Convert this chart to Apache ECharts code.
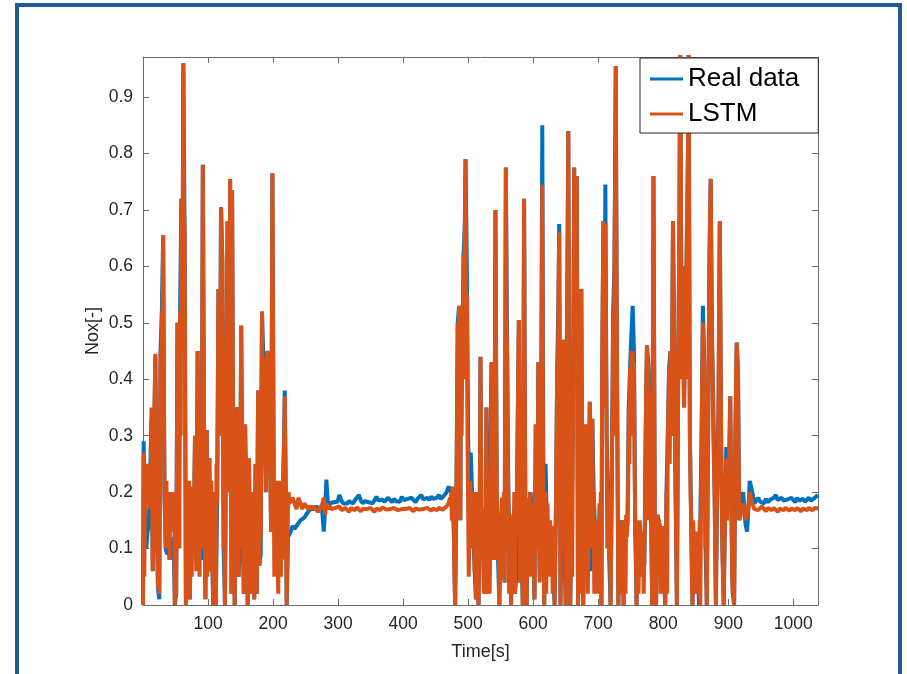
<!DOCTYPE html>
<html>
<head>
<meta charset="utf-8">
<script src="https://cdn.jsdelivr.net/npm/echarts@6/dist/echarts.min.js"></script>
<style>
  html, body { margin: 0; padding: 0; background: #fff; }
  #chart { width: 907px; height: 674px; }
</style>
</head>
<body>
<div id="chart"></div>
<script>
// time stamps [s]
var time = [
  0, 1, 3, 5, 7, 9, 11, 13, 15, 17,
  19, 21, 23, 25, 27, 29, 31, 33, 35, 37,
  39, 41, 43, 45, 47, 49, 51, 53, 55, 57,
  59, 61, 62, 64, 66, 68, 70, 72, 74, 76,
  78, 80, 82, 84, 86, 88, 90, 92, 94, 96,
  98, 100, 102, 104, 106, 108, 110, 112, 114, 116,
  118, 120, 122, 124, 126, 128, 130, 132, 134, 136,
  137, 139, 141, 143, 145, 147, 149, 151, 153, 155,
  157, 159, 161, 163, 165, 167, 169, 171, 173, 175,
  177, 179, 181, 183, 185, 187, 189, 191, 193, 195,
  197, 199, 201, 203, 205, 207, 209, 211, 213, 215,
  217, 218, 220, 221, 223, 225,
  227, 230, 233, 236, 239, 242, 245, 248, 251, 254,
  257, 260, 263, 266, 269, 272, 275, 278, 280, 282,
  284, 287, 290, 293, 296, 299, 302, 305, 308, 311,
  314, 317, 320, 323, 326, 329, 332, 335, 338, 341,
  344, 347, 350, 353, 356, 359, 362, 365, 368, 371,
  374, 377, 380, 383, 386, 389, 392, 395, 398, 401,
  404, 407, 410, 413, 416, 419, 422, 425, 428, 431,
  434, 437, 440, 443, 446, 449, 452, 455, 458, 461,
  464, 467, 470,
  472, 474, 476, 478, 480, 482, 484, 486, 488, 489,
  491, 493, 495, 496, 498, 500, 502, 504, 506, 508,
  510, 512, 514, 516, 518, 519, 521, 523, 525, 527,
  528, 530, 532, 534, 536, 538, 540, 542, 544, 546,
  548, 550, 552, 554, 556, 558, 560, 562, 564, 566,
  568, 570, 572, 574, 576, 578, 580, 582, 584, 586,
  588, 590, 592, 594, 596, 598, 600, 602, 604, 606,
  608, 610, 612, 614, 616, 617, 619, 621, 623, 625,
  627, 629, 631, 633, 635, 637, 639, 640, 642, 644,
  646, 648, 650, 652, 654, 656, 657, 659, 661, 663,
  665, 667, 669, 671, 673, 674, 676, 677, 679, 681,
  683, 685, 687, 689, 691, 693, 695, 697, 699, 701,
  703, 705, 706, 708, 710, 711, 713, 715, 717, 719,
  721, 723, 725, 727, 729, 731, 733, 735, 737, 739,
  741, 743, 745, 747, 749, 751, 753, 755, 757, 759,
  761, 763, 765, 767, 769, 771, 773, 775, 777, 779,
  781, 783, 785, 787, 789, 791, 793, 795, 797, 799,
  801, 803, 805, 807, 809, 811, 813, 815, 817, 819,
  821, 823, 825, 826, 828, 830, 832, 834, 836, 838,
  839, 841, 843, 845, 847, 849, 851, 853, 855, 857,
  859, 861, 863, 865, 867, 869, 871, 873, 875, 877,
  879, 881, 883, 885, 887, 889, 891, 893, 895, 897,
  899, 901, 903, 905, 907, 909, 911, 913, 915, 917,
  919, 921, 923, 925, 927, 929, 931, 933, 935, 937,
  940, 943, 946, 949, 952, 955, 958, 961, 964, 967,
  970, 973, 976, 979, 982, 985, 988, 991, 994, 997,
  1000, 1003, 1006, 1009, 1012, 1015, 1018, 1021, 1024, 1027,
  1030, 1033, 1036, 1038
];

// measured Nox
var realData = [
  0.0, 0.29, 0.16, 0.10, 0.13, 0.14, 0.14, 0.33, 0.06, 0.28,
  0.44, 0.18, 0.03, 0.01, 0.45, 0.52, 0.655, 0.20, 0.10, 0.09,
  0.10, 0.08, 0.10, 0.11, 0.12, 0.0, 0.02, 0.50, 0.15, 0.52,
  0.72, 0.62, 0.96, 0.66, 0.0, 0.18, 0.17, 0.01, 0.14, 0.20,
  0.12, 0.30, 0.08, 0.45, 0.10, 0.15, 0.08, 0.78, 0.30, 0.01,
  0.31, 0.13, 0.26, 0.06, 0.10, 0.0, 0.10, 0.0, 0.18, 0.56,
  0.30, 0.705, 0.61, 0.10, 0.0, 0.35, 0.68, 0.20, 0.755, 0.02,
  0.735, 0.20, 0.0, 0.34, 0.35, 0.05, 0.10, 0.495, 0.18, 0.02,
  0.32, 0.20, 0.0, 0.26, 0.10, 0.02, 0.15, 0.01, 0.25, 0.02,
  0.38, 0.07, 0.09, 0.52, 0.44, 0.44, 0.20, 0.45, 0.44, 0.30,
  0.13, 0.765, 0.22, 0.12, 0.14, 0.08, 0.18, 0.10, 0.15, 0.20,
  0.30, 0.38, 0.15, 0.0, 0.12, 0.12,
  0.13, 0.14, 0.135, 0.14, 0.145, 0.15, 0.15, 0.155, 0.16, 0.165,
  0.17, 0.172, 0.17, 0.175, 0.17, 0.172, 0.175, 0.13, 0.17, 0.222,
  0.185, 0.18, 0.178, 0.182, 0.18, 0.183, 0.195, 0.185, 0.18, 0.183,
  0.18, 0.184, 0.182, 0.18, 0.186, 0.183, 0.195, 0.185, 0.18, 0.184,
  0.186, 0.182, 0.185, 0.18, 0.183, 0.192, 0.185, 0.182, 0.187, 0.183,
  0.185, 0.19, 0.186, 0.182, 0.188, 0.184, 0.187, 0.183, 0.192, 0.186,
  0.184, 0.188, 0.185, 0.19, 0.186, 0.182, 0.188, 0.185, 0.195, 0.187,
  0.185, 0.19, 0.186, 0.192, 0.188, 0.185, 0.19, 0.195, 0.188, 0.19,
  0.195, 0.20, 0.21,
  0.21, 0.20, 0.19, 0.13, 0.0, 0.20, 0.50, 0.53, 0.15, 0.53,
  0.44, 0.62, 0.68, 0.79, 0.60, 0.30, 0.15, 0.27, 0.20, 0.12,
  0.06, 0.01, 0.12, 0.0, 0.20, 0.44, 0.08, 0.08, 0.17, 0.02,
  0.35, 0.06, 0.10, 0.10, 0.43, 0.38, 0.08, 0.70, 0.20, 0.08,
  0.0, 0.12, 0.19, 0.16, 0.04, 0.775, 0.44, 0.18, 0.13, 0.0,
  0.16, 0.13, 0.02, 0.05, 0.30, 0.505, 0.04, 0.10, 0.0, 0.72,
  0.14, 0.0, 0.19, 0.15, 0.20, 0.16, 0.10, 0.01, 0.32, 0.10,
  0.43, 0.05, 0.24, 0.85, 0.10, 0.0, 0.25, 0.15, 0.12, 0.14,
  0.07, 0.12, 0.05, 0.0, 0.17, 0.425, 0.55, 0.675, 0.0, 0.20,
  0.47, 0.10, 0.0, 0.50, 0.84, 0.15, 0.0, 0.12, 0.30, 0.775,
  0.50, 0.76, 0.0, 0.15, 0.40, 0.56, 0.10, 0.0, 0.15, 0.32,
  0.20, 0.12, 0.36, 0.06, 0.33, 0.20, 0.14, 0.05, 0.15, 0.13,
  0.10, 0.0, 0.40, 0.68, 0.50, 0.745, 0.30, 0.20, 0.08, 0.0,
  0.23, 0.52, 0.60, 0.955, 0.40, 0.0, 0.14, 0.13, 0.15, 0.0,
  0.12, 0.15, 0.14, 0.35, 0.42, 0.48, 0.53, 0.45, 0.13, 0.0,
  0.12, 0.08, 0.07, 0.08, 0.08, 0.07, 0.30, 0.46, 0.43, 0.38,
  0.20, 0.0, 0.76, 0.15, 0.0, 0.16, 0.15, 0.13, 0.12, 0.10,
  0.05, 0.0, 0.20, 0.30, 0.42, 0.45, 0.30, 0.68, 0.45, 0.20,
  0.0, 0.40, 0.70, 1.0, 0.50, 0.60, 0.35, 0.50, 0.62, 0.80,
  1.0, 0.30, 0.15, 0.0, 0.12, 0.10, 0.02, 0.08, 0.0, 0.0,
  0.30, 0.53, 0.43, 0.10, 0.0, 0.30, 0.60, 0.755, 0.47, 0.36,
  0.20, 0.0, 0.20, 0.35, 0.68, 0.30, 0.10, 0.0, 0.15, 0.28,
  0.20, 0.21, 0.37, 0.15, 0.02, 0.0, 0.30, 0.465, 0.41, 0.15,
  0.17, 0.19, 0.20, 0.16, 0.14, 0.13, 0.13, 0.22, 0.22, 0.20,
  0.18, 0.185, 0.19, 0.183, 0.185, 0.18, 0.188, 0.182, 0.186, 0.183,
  0.19, 0.195, 0.186, 0.184, 0.19, 0.185, 0.183, 0.187, 0.185, 0.19,
  0.186, 0.182, 0.19, 0.185, 0.184, 0.188, 0.183, 0.186, 0.19, 0.185,
  0.188, 0.19, 0.192, 0.195
];

// LSTM prediction, same time stamps
var lstm = [
  0.0, 0.27, 0.20, 0.22, 0.23, 0.21, 0.20, 0.35, 0.06, 0.30,
  0.445, 0.18, 0.03, 0.02, 0.45, 0.52, 0.655, 0.20, 0.10, 0.15,
  0.19, 0.08, 0.14, 0.17, 0.13, 0.0, 0.02, 0.50, 0.17, 0.52,
  0.72, 0.62, 0.96, 0.66, 0.0, 0.20, 0.17, 0.01, 0.15, 0.21,
  0.13, 0.30, 0.06, 0.45, 0.12, 0.20, 0.10, 0.78, 0.30, 0.01,
  0.31, 0.13, 0.26, 0.06, 0.15, 0.0, 0.10, 0.0, 0.18, 0.56,
  0.30, 0.705, 0.61, 0.10, 0.0, 0.35, 0.68, 0.20, 0.755, 0.02,
  0.735, 0.20, 0.0, 0.34, 0.35, 0.05, 0.10, 0.495, 0.20, 0.02,
  0.32, 0.17, 0.0, 0.26, 0.10, 0.02, 0.15, 0.01, 0.25, 0.02,
  0.38, 0.07, 0.12, 0.52, 0.44, 0.44, 0.20, 0.45, 0.44, 0.30,
  0.13, 0.765, 0.22, 0.12, 0.14, 0.08, 0.18, 0.10, 0.15, 0.20,
  0.28, 0.37, 0.15, 0.0, 0.17, 0.18,
  0.18, 0.19, 0.18, 0.17, 0.19, 0.18, 0.17, 0.18, 0.175, 0.17,
  0.175, 0.17, 0.175, 0.17, 0.165, 0.17, 0.175, 0.19, 0.16, 0.18,
  0.17, 0.175, 0.17, 0.168, 0.172, 0.17, 0.175, 0.168, 0.17, 0.172,
  0.17, 0.165, 0.172, 0.17, 0.168, 0.173, 0.17, 0.166, 0.17, 0.172,
  0.17, 0.168, 0.172, 0.17, 0.165, 0.171, 0.17, 0.168, 0.173, 0.17,
  0.169, 0.172, 0.17, 0.167, 0.172, 0.17, 0.168, 0.171, 0.17, 0.173,
  0.17, 0.168, 0.172, 0.17, 0.166, 0.171, 0.17, 0.169, 0.172, 0.17,
  0.168, 0.172, 0.17, 0.167, 0.171, 0.17, 0.168, 0.172, 0.17, 0.169,
  0.172, 0.175, 0.18,
  0.19, 0.20, 0.21, 0.13, 0.0, 0.20, 0.50, 0.53, 0.15, 0.53,
  0.44, 0.62, 0.68, 0.79, 0.55, 0.17, 0.15, 0.18, 0.14, 0.12,
  0.06, 0.01, 0.12, 0.0, 0.20, 0.44, 0.10, 0.08, 0.17, 0.02,
  0.35, 0.08, 0.15, 0.10, 0.43, 0.38, 0.08, 0.70, 0.20, 0.08,
  0.0, 0.12, 0.19, 0.16, 0.04, 0.775, 0.44, 0.18, 0.14, 0.0,
  0.16, 0.13, 0.02, 0.12, 0.30, 0.505, 0.04, 0.10, 0.0, 0.72,
  0.14, 0.0, 0.19, 0.15, 0.18, 0.14, 0.10, 0.01, 0.32, 0.10,
  0.43, 0.04, 0.20, 0.745, 0.10, 0.0, 0.20, 0.15, 0.12, 0.14,
  0.07, 0.12, 0.05, 0.0, 0.17, 0.425, 0.55, 0.66, 0.0, 0.20,
  0.47, 0.10, 0.0, 0.50, 0.84, 0.15, 0.0, 0.12, 0.30, 0.775,
  0.50, 0.76, 0.0, 0.15, 0.40, 0.56, 0.10, 0.0, 0.15, 0.32,
  0.20, 0.12, 0.36, 0.10, 0.33, 0.20, 0.14, 0.05, 0.15, 0.13,
  0.10, 0.0, 0.40, 0.68, 0.50, 0.675, 0.30, 0.20, 0.08, 0.0,
  0.25, 0.52, 0.60, 0.955, 0.40, 0.0, 0.14, 0.13, 0.15, 0.0,
  0.13, 0.16, 0.15, 0.35, 0.42, 0.45, 0.45, 0.43, 0.13, 0.0,
  0.12, 0.10, 0.12, 0.11, 0.08, 0.10, 0.30, 0.46, 0.43, 0.38,
  0.20, 0.0, 0.76, 0.15, 0.0, 0.16, 0.15, 0.14, 0.12, 0.10,
  0.05, 0.0, 0.20, 0.30, 0.42, 0.45, 0.30, 0.68, 0.45, 0.20,
  0.0, 0.40, 0.70, 1.0, 0.50, 0.60, 0.35, 0.50, 0.62, 0.80,
  1.0, 0.30, 0.15, 0.0, 0.12, 0.10, 0.02, 0.08, 0.02, 0.0,
  0.30, 0.50, 0.43, 0.10, 0.0, 0.30, 0.60, 0.755, 0.47, 0.30,
  0.20, 0.0, 0.20, 0.35, 0.68, 0.30, 0.10, 0.0, 0.15, 0.26,
  0.20, 0.21, 0.37, 0.15, 0.02, 0.0, 0.30, 0.465, 0.41, 0.15,
  0.17, 0.16, 0.18, 0.17, 0.15, 0.16, 0.17, 0.20, 0.19, 0.18,
  0.17, 0.172, 0.168, 0.17, 0.175, 0.17, 0.166, 0.172, 0.17, 0.168,
  0.172, 0.17, 0.165, 0.171, 0.17, 0.168, 0.172, 0.17, 0.167, 0.171,
  0.17, 0.168, 0.172, 0.17, 0.166, 0.171, 0.17, 0.168, 0.172, 0.17,
  0.168, 0.172, 0.17, 0.171
];

// extra LSTM samples in between (the dense 1 s wiggle inside the two bursts)
var lstmFillTime = [
  2, 4, 6, 8, 10, 12, 14, 16, 18, 20,
  22, 24, 26, 28, 30, 32, 34, 36, 38, 40,
  42, 44, 46, 48, 50, 52, 54, 56, 58, 60,
  63, 65, 67, 69, 71, 73, 75, 77, 79, 81,
  83, 85, 87, 89, 91, 93, 95, 97, 99, 101,
  103, 105, 107, 109, 111, 113, 115, 117, 119, 121,
  123, 125, 127, 129, 131, 133, 135, 138, 140, 142,
  144, 146, 148, 150, 152, 154, 156, 158, 160, 162,
  164, 166, 168, 170, 172, 174, 176, 178, 180, 182,
  184, 186, 188, 190, 192, 194, 196, 198, 200, 202,
  204, 206, 208, 210, 212, 214, 216, 219, 222, 224,
  473, 475, 477, 479, 481, 483, 485, 487, 490, 492,
  494, 497, 499, 501, 503, 505, 507, 509, 511, 513,
  515, 517, 520, 522, 524, 526, 529, 531, 533, 535,
  537, 539, 541, 543, 545, 547, 549, 551, 553, 555,
  557, 559, 561, 563, 565, 567, 569, 571, 573, 575,
  577, 579, 581, 583, 585, 587, 589, 591, 593, 595,
  597, 599, 601, 603, 605, 607, 609, 611, 613, 615,
  618, 620, 622, 624, 626, 628, 630, 632, 634, 636,
  638, 641, 643, 645, 647, 649, 651, 653, 655, 658,
  660, 662, 664, 666, 668, 670, 672, 675, 678, 680,
  682, 684, 686, 688, 690, 692, 694, 696, 698, 700,
  702, 704, 707, 709, 712, 714, 716, 718, 720, 722,
  724, 726, 728, 730, 732, 734, 736, 738, 740, 742,
  744, 746, 748, 750, 752, 754, 756, 758, 760, 762,
  764, 766, 768, 770, 772, 774, 776, 778, 780, 782,
  784, 786, 788, 790, 792, 794, 796, 798, 800, 802,
  804, 806, 808, 810, 812, 814, 816, 818, 820, 822,
  824, 827, 829, 831, 833, 835, 837, 840, 842, 844,
  846, 848, 850, 852, 854, 856, 858, 860, 862, 864,
  866, 868, 870, 872, 874, 876, 878, 880, 882, 884,
  886, 888, 890, 892, 894, 896, 898, 900, 902, 904,
  906, 908, 910, 912, 914, 916, 918
];
var lstmFill = [
  0.05, 0.24, 0.18, 0.25, 0.17, 0.22, 0.20, 0.12, 0.38, 0.30,
  0.10, 0.15, 0.25, 0.30, 0.45, 0.40, 0.15, 0.22, 0.16, 0.20,
  0.20, 0.15, 0.18, 0.20, 0.15, 0.25, 0.30, 0.10, 0.30, 0.45,
  0.70, 0.30, 0.15, 0.05, 0.22, 0.12, 0.05, 0.18, 0.22, 0.12,
  0.20, 0.25, 0.05, 0.18, 0.40, 0.50, 0.15, 0.20, 0.05, 0.22,
  0.10, 0.22, 0.08, 0.20, 0.15, 0.25, 0.35, 0.45, 0.40, 0.65,
  0.30, 0.20, 0.15, 0.50, 0.45, 0.45, 0.40, 0.45, 0.12, 0.20,
  0.10, 0.20, 0.22, 0.30, 0.35, 0.15, 0.20, 0.05, 0.12, 0.20,
  0.02, 0.20, 0.05, 0.20, 0.12, 0.15, 0.20, 0.15, 0.22, 0.35,
  0.25, 0.30, 0.35, 0.30, 0.25, 0.38, 0.22, 0.45, 0.50, 0.05,
  0.22, 0.20, 0.02, 0.22, 0.05, 0.08, 0.24, 0.25, 0.10, 0.20,
  0.18, 0.15, 0.20, 0.05, 0.10, 0.35, 0.30, 0.35, 0.30, 0.50,
  0.40, 0.45, 0.30, 0.05, 0.22, 0.10, 0.20, 0.15, 0.12, 0.20,
  0.08, 0.15, 0.25, 0.15, 0.02, 0.12, 0.15, 0.20, 0.02, 0.25,
  0.30, 0.12, 0.35, 0.40, 0.15, 0.12, 0.15, 0.05, 0.10, 0.20,
  0.40, 0.50, 0.25, 0.02, 0.15, 0.10, 0.05, 0.20, 0.15, 0.20,
  0.40, 0.25, 0.15, 0.12, 0.35, 0.40, 0.18, 0.15, 0.05, 0.20,
  0.05, 0.18, 0.12, 0.20, 0.15, 0.25, 0.15, 0.12, 0.50, 0.30,
  0.15, 0.02, 0.18, 0.05, 0.15, 0.14, 0.02, 0.12, 0.10, 0.30,
  0.40, 0.30, 0.15, 0.30, 0.25, 0.15, 0.25, 0.60, 0.40, 0.15,
  0.05, 0.50, 0.45, 0.60, 0.30, 0.12, 0.02, 0.30, 0.20, 0.05,
  0.25, 0.02, 0.20, 0.25, 0.15, 0.15, 0.02, 0.15, 0.12, 0.02,
  0.18, 0.20, 0.55, 0.35, 0.45, 0.10, 0.15, 0.20, 0.12, 0.35,
  0.30, 0.75, 0.60, 0.20, 0.12, 0.02, 0.05, 0.12, 0.15, 0.02,
  0.12, 0.20, 0.25, 0.30, 0.40, 0.35, 0.25, 0.10, 0.15, 0.02,
  0.15, 0.05, 0.13, 0.02, 0.15, 0.40, 0.30, 0.15, 0.30, 0.10,
  0.40, 0.45, 0.10, 0.12, 0.05, 0.15, 0.02, 0.14, 0.02, 0.12,
  0.10, 0.02, 0.35, 0.25, 0.40, 0.50, 0.55, 0.30, 0.10, 0.20,
  0.55, 0.80, 0.40, 0.45, 0.45, 0.40, 0.70, 0.60, 0.20, 0.05,
  0.15, 0.02, 0.13, 0.10, 0.12, 0.15, 0.15, 0.40, 0.45, 0.25,
  0.12, 0.15, 0.45, 0.70, 0.60, 0.40, 0.25, 0.10, 0.15, 0.25,
  0.55, 0.50, 0.20, 0.05, 0.10, 0.20, 0.15, 0.25, 0.30, 0.25,
  0.05, 0.10, 0.15, 0.40, 0.44, 0.25, 0.16
];

var seriesNames = ['Real data', 'LSTM'];
var seriesColors = ['#0072BD', '#D95319'];
var xTicks = [100, 200, 300, 400, 500, 600, 700, 800, 900, 1000];
var yTicks = [0, 0.1, 0.2, 0.3, 0.4, 0.5, 0.6, 0.7, 0.8, 0.9];

var font = "'Liberation Sans', Arial, Helvetica, sans-serif";
var axisColor = '#6b6b6b';
var textColor = '#262626';

function toPoints(ts, values) {
  return ts.map(function (t, i) { return [t, values[i]]; });
}

var realPoints = toPoints(time, realData);
var lstmPoints = toPoints(time, lstm).concat(toPoints(lstmFillTime, lstmFill));
lstmPoints.sort(function (a, b) { return a[0] - b[0]; });

var chart = echarts.init(document.getElementById('chart'));

var baseX = {
  type: 'value',
  min: 0,
  max: 1038,
  splitLine: { show: false },
  axisLine: { show: true, onZero: false, lineStyle: { color: axisColor, width: 1 } },
  axisTick: { show: true, inside: true, length: 6, customValues: xTicks, lineStyle: { color: axisColor } }
};
var baseY = {
  type: 'value',
  min: 0,
  max: 0.971,
  splitLine: { show: false },
  axisLine: { show: true, onZero: false, lineStyle: { color: axisColor, width: 1 } },
  axisTick: { show: true, inside: true, length: 6, customValues: yTicks, lineStyle: { color: axisColor } }
};

var option = {
  backgroundColor: '#fff',
  animation: false,
  textStyle: { fontFamily: font },
  graphic: [{
    type: 'rect',
    shape: { x: 17, y: 5, width: 883, height: 720 },
    style: { fill: 'none', stroke: '#1f5a92', lineWidth: 4 },
    z: 100
  }],
  grid: { left: 143, right: 89, top: 57, bottom: 69 },
  legend: {
    orient: 'vertical',
    left: 640,
    top: 58,
    icon: 'rect',
    itemWidth: 33,
    itemHeight: 3,
    itemGap: 9,
    padding: [8, 19, 6, 10],
    borderColor: '#262626',
    borderWidth: 1,
    borderRadius: 0,
    backgroundColor: '#fff',
    textStyle: { fontSize: 26, color: '#000', fontFamily: font },
    data: seriesNames
  },
  xAxis: [
    Object.assign({}, baseX, {
      position: 'bottom',
      name: 'Time[s]',
      nameLocation: 'middle',
      nameGap: 38,
      nameMoveOverlap: false,
      nameTextStyle: { fontSize: 18, color: textColor, fontFamily: font },
      axisLabel: {
        fontSize: 17.5,
        color: textColor,
        margin: 10,
        fontFamily: font,
        customValues: xTicks,
        formatter: function (v) { return String(v); }
      }
    }),
    Object.assign({}, baseX, { position: 'top', axisLabel: { show: false } })
  ],
  yAxis: [
    Object.assign({}, baseY, {
      position: 'left',
      name: 'Nox[-]',
      nameLocation: 'middle',
      nameGap: 41,
      nameMoveOverlap: false,
      nameTextStyle: { fontSize: 18, color: textColor, fontFamily: font },
      axisLabel: {
        fontSize: 17.5,
        color: textColor,
        margin: 10,
        fontFamily: font,
        customValues: yTicks,
        formatter: function (v) { return v === 0 ? '0' : v.toFixed(1); }
      }
    }),
    Object.assign({}, baseY, { position: 'right', axisLabel: { show: false } })
  ],
  series: [{
    name: seriesNames[0],
    type: 'line',
    xAxisIndex: 0,
    yAxisIndex: 0,
    data: realPoints,
    symbol: 'none',
    clip: true,
    color: seriesColors[0],
    lineStyle: { width: 4, color: seriesColors[0] }
  }, {
    name: seriesNames[1],
    type: 'line',
    xAxisIndex: 0,
    yAxisIndex: 0,
    data: lstmPoints,
    symbol: 'none',
    clip: true,
    color: seriesColors[1],
    lineStyle: { width: 4, color: seriesColors[1] }
  }]
};

chart.setOption(option);
</script>
</body>
</html>
